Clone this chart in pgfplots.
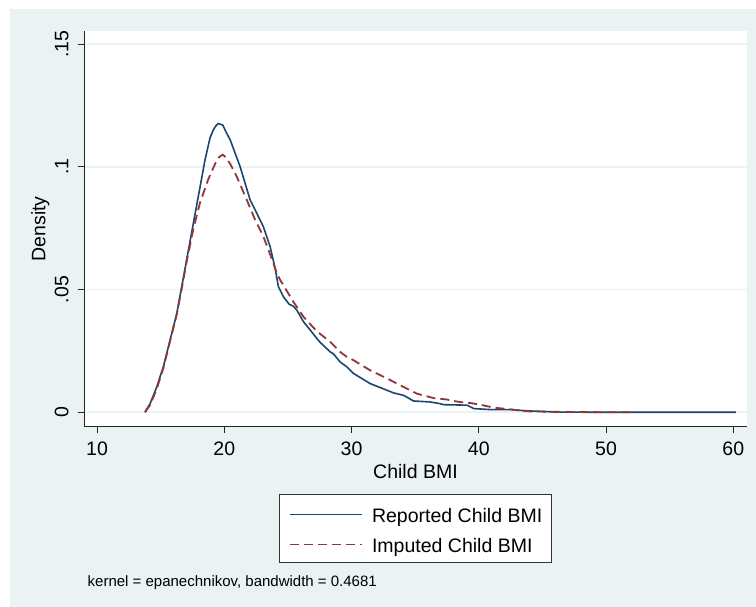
\documentclass[border=0pt]{standalone}
\usepackage{fontspec}
\setmainfont{Liberation Sans}
\usepackage{pgfplots}
\pgfplotsset{compat=1.18}

\definecolor{stbg}{HTML}{EAF2F3}
\definecolor{stnavy}{HTML}{1A476F}
\definecolor{stmaroon}{HTML}{90353B}
\newcommand\mainf{\fontsize{19.5bp}{23bp}\selectfont}
\newcommand\notef{\fontsize{15bp}{18bp}\selectfont}

\begin{document}
\begin{tikzpicture}
\fill[white] (0bp,0bp) rectangle (756bp,607bp);
\fill[stbg] (10bp,0bp) rectangle (756bp,598bp);
\begin{axis}[
  at={(84.3bp,180.3bp)}, anchor=south west,
  scale only axis,
  width=662.4bp, height=395.7bp,
  xmin=9.0, xmax=61.05,
  ymin=-0.00587, ymax=0.1553,
  axis background/.style={fill=white},
  axis x line*=bottom, axis y line*=left,
  axis line style={black!85, line width=1.1bp, -},
  tick align=outside,
  major tick length=6.3bp,
  tick style={black!85, line width=1bp},
  xtick={10,20,30,40,50,60},
  xticklabels={10,20,30,40,50,60},
  ytick={0,0.05,0.1,0.15},
  yticklabels={0,.05,.1,.15},
  ymajorgrids,
  grid style={stbg, line width=1.6bp},
  tick label style={font=\mainf},
  xticklabel style={yshift=-5.5bp},
  yticklabel style={xshift=-6bp, rotate=90, anchor=south},
  xlabel={Child BMI},
  ylabel={Density},
  every axis x label/.style={at={(axis description cs:0.5,0)}, yshift=-44.5bp, anchor=center, font=\mainf},
  every axis y label/.style={at={(axis description cs:0,0.5)}, xshift=-44bp, rotate=90, anchor=center, font=\mainf},
  legend style={at={(0.5,-0.170)}, anchor=north, draw=black!80, line width=0.9bp,
    fill=white, font=\mainf, inner xsep=9.5bp, inner ysep=7.6bp,
    row sep=7bp,
    nodes={inner sep=0bp, text height=20bp, text depth=3bp},
    /tikz/every odd column/.append style={column sep=9.5bp}},
  legend cell align=left,
  legend image code/.code={\draw[#1] (-2.5bp,-1bp) -- (69.5bp,-1bp);},
]
\addplot[stnavy, line width=1.6bp] coordinates {
(13.77,0.0001) (14.17,0.0035) (14.69,0.0103) (15.21,0.0185) (15.74,0.0294)
(16.27,0.0403) (16.66,0.0513) (17.18,0.0660) (17.57,0.0770) (18.00,0.0891)
(18.49,0.1029) (18.88,0.1118) (19.14,0.1150) (19.30,0.1164) (19.52,0.1176)
(19.88,0.1170) (20.19,0.1136) (20.46,0.1110) (21.24,0.1001) (22.03,0.0865)
(22.55,0.0811) (23.07,0.0756) (23.60,0.0675) (24.00,0.0585) (24.25,0.0512)
(24.65,0.0470) (25.10,0.0440) (25.43,0.0432) (25.70,0.0416) (26.22,0.0369)
(26.75,0.0335) (27.27,0.0301) (27.53,0.0285) (28.32,0.0246) (28.58,0.0238)
(29.10,0.0205) (29.63,0.0185) (30.16,0.0158) (31.46,0.0117) (33.30,0.0079)
(34.09,0.0069) (34.87,0.0046) (36.18,0.0042) (36.96,0.0035) (37.23,0.0031)
(39.07,0.0029) (39.60,0.0015) (40.90,0.0011) (42.47,0.0011) (43.78,0.0006)
(46.14,0.0001) (50.00,0.0000) (60.20,0.0000)
};
\addlegendentry{Reported Child BMI}
\addplot[stmaroon, line width=1.8bp, dash pattern=on 9bp off 5bp] coordinates {
(13.77,0.0000) (14.17,0.0030) (14.69,0.0095) (15.21,0.0180) (15.74,0.0290)
(16.27,0.0400) (16.66,0.0505) (17.05,0.0615) (17.57,0.0748) (18.10,0.0855)
(18.75,0.0950) (19.28,0.1012) (19.60,0.1040) (19.88,0.1049) (20.10,0.1040)
(20.46,0.1012) (20.98,0.0960) (21.77,0.0865) (22.42,0.0784) (23.07,0.0716)
(23.86,0.0607) (24.13,0.0566) (24.39,0.0539) (25.43,0.0450) (26.22,0.0389)
(27.27,0.0330) (28.32,0.0287) (29.10,0.0246) (29.63,0.0226) (30.16,0.0212)
(31.46,0.0171) (32.78,0.0138) (34.09,0.0103) (35.13,0.0076) (36.44,0.0058)
(37.49,0.0052) (38.00,0.0046) (38.80,0.0040) (39.33,0.0038) (40.10,0.0031)
(41.16,0.0019) (42.47,0.0012) (43.78,0.0004) (46.93,0.0001) (52.05,0.0000)
};
\addlegendentry{Imputed Child BMI}
\end{axis}
\node[anchor=base west, inner sep=0bp, font=\notef] at (87.5bp,20.5bp)
  {kernel = epanechnikov, bandwidth = 0.4681};
\end{tikzpicture}
\end{document}
